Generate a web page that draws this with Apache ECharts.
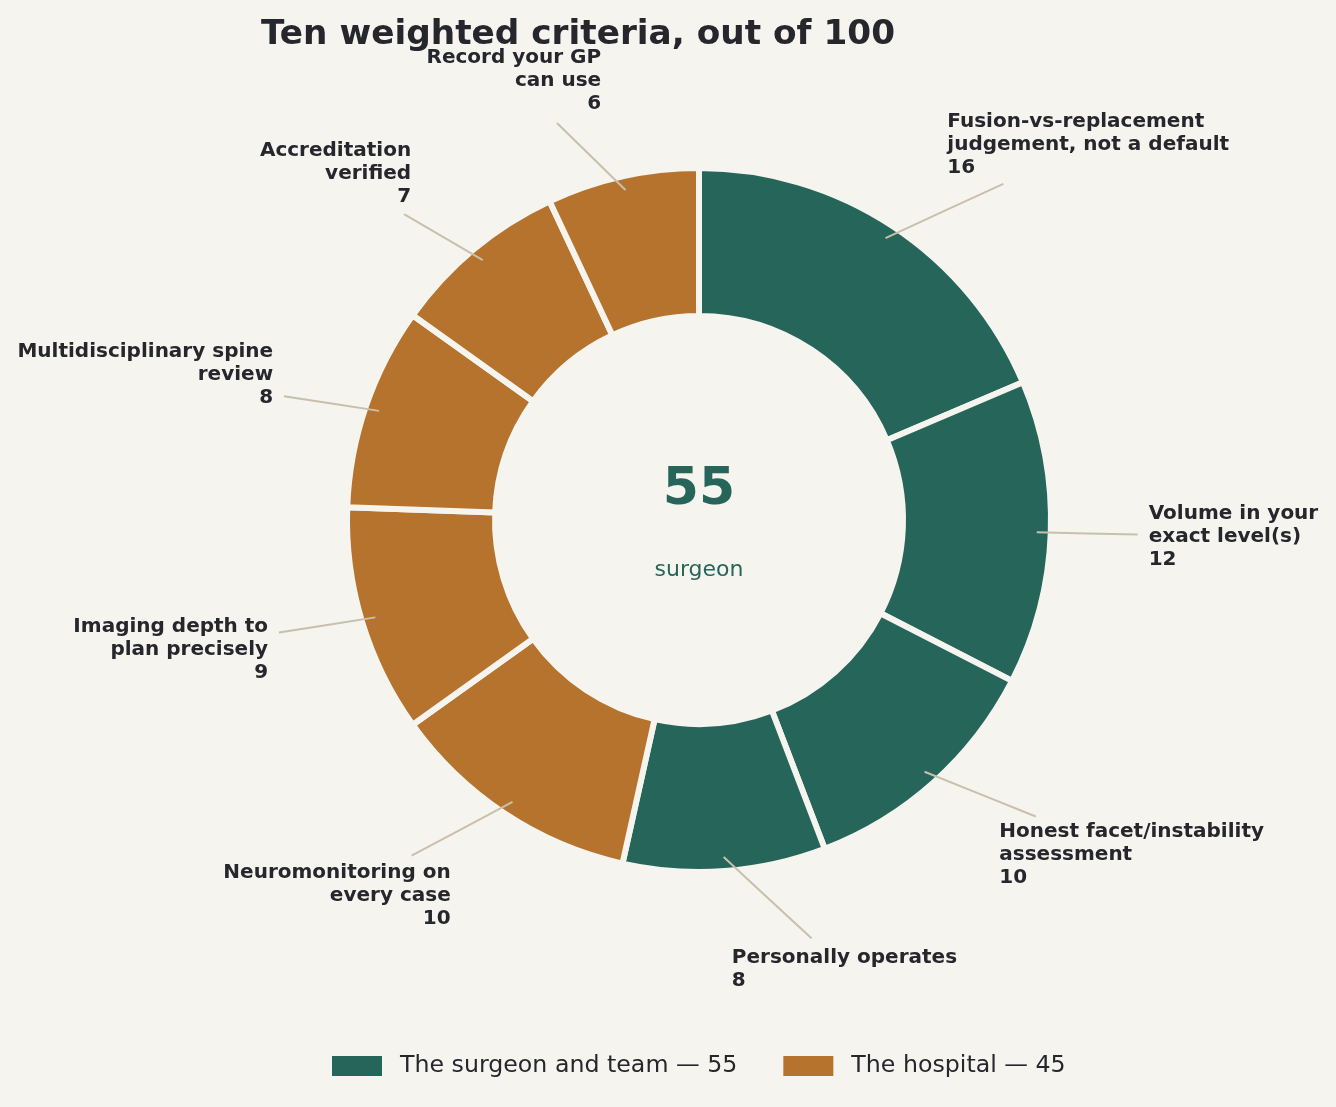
<!DOCTYPE html>
<html>
<head>
<meta charset="utf-8">
<script src="https://cdn.jsdelivr.net/npm/echarts@6/dist/echarts.min.js"></script>
<style>
  html, body { margin: 0; padding: 0; background: #f5f4ef; }
  #chart { width: 1336px; height: 1107px; }
</style>
</head>
<body>
<div id="chart"></div>
<script>
// ---- data ----
const categories = [
  'Fusion-vs-replacement\njudgement, not a default',
  'Volume in your\nexact level(s)',
  'Honest facet/instability\nassessment',
  'Personally operates',
  'Neuromonitoring on\nevery case',
  'Imaging depth to\nplan precisely',
  'Multidisciplinary spine\nreview',
  'Accreditation\nverified',
  'Record your GP\ncan use'
];
const weights = [16, 12, 10, 8, 10, 9, 8, 7, 6];
const groups = ['surgeon', 'surgeon', 'surgeon', 'surgeon', 'hospital', 'hospital', 'hospital', 'hospital', 'hospital'];
const legendNames = ['The surgeon and team \u2014 55', 'The hospital \u2014 45'];
const legendGroups = ['surgeon', 'hospital'];
const centerValue = '55';
const centerLabel = 'surgeon';
const titleText = 'Ten weighted criteria, out of 100';

// ---- styles ----
const colors = { surgeon: '#26655a', hospital: '#b5732d' };
const BG = '#f5f4ef';
const TEXT = '#25272c';
const FONT = 'DejaVu Sans';
const CX = 699, CY = 520;
const R_OUT = 352, R_IN = 204;
const LABEL_R = 450, LINE_R = 338, SHRINK = 11;

const total = weights.reduce((a, b) => a + b, 0);
function midAngle(i) {
  let s = 0;
  for (let j = 0; j < i; j++) s += weights[j];
  return (s + weights[i] / 2) / total * Math.PI * 2;
}

function layoutLabel(params) {
  const a = midAngle(params.dataIndex);
  const sx = Math.sin(a), sy = -Math.cos(a);
  const ax = CX + LABEL_R * sx, ay = CY + LABEL_R * sy;
  const right = sx >= 0;
  const w = params.labelRect.width, h = params.labelRect.height;
  const x0 = right ? ax : ax - w, x1 = x0 + w;
  const y0 = ay - h / 2, y1 = ay + h / 2;
  const px = CX + LINE_R * sx, py = CY + LINE_R * sy;
  const bx = (x0 + x1) / 2, by = (y0 + y1) / 2;
  const dx = bx - px, dy = by - py;
  const tx = dx > 0 ? (x0 - px) / dx : (dx < 0 ? (x1 - px) / dx : -Infinity);
  const ty = dy > 0 ? (y0 - py) / dy : (dy < 0 ? (y1 - py) / dy : -Infinity);
  const t = Math.max(tx, ty);
  const len = Math.hypot(dx, dy);
  const ex = px + dx * t - dx / len * SHRINK;
  const ey = py + dy * t - dy / len * SHRINK;
  return {
    x: ax, y: ay,
    align: right ? 'left' : 'right',
    verticalAlign: 'middle',
    labelLinePoints: [[px, py], [(px + ex) / 2, (py + ey) / 2], [ex, ey]]
  };
}

const chart = echarts.init(document.getElementById('chart'));
const option = {
  backgroundColor: BG,
  animation: false,
  title: [
    { text: titleText, left: 256, top: 13,
      textStyle: { fontFamily: FONT, fontSize: 34.3, fontWeight: 'bold', color: TEXT } }
  ],
  graphic: [
    { type: 'text', x: CX, y: 490, z: 10,
      style: { text: centerValue, align: 'center', verticalAlign: 'middle',
               font: 'bold 52px "DejaVu Sans"', fill: colors.surgeon } },
    { type: 'text', x: CX, y: 570, z: 10,
      style: { text: centerLabel, align: 'center', verticalAlign: 'middle',
               font: '22px "DejaVu Sans"', fill: colors.surgeon } }
  ],
  legend: {
    data: legendNames,
    left: 327, top: 1049,
    itemWidth: 50, itemHeight: 20, itemGap: 46,
    icon: 'rect',
    textStyle: { fontFamily: FONT, fontSize: 23.7, color: TEXT, padding: [0, 0, 0, 13] }
  },
  grid: { left: 0, top: 0, width: 1, height: 1, show: false },
  xAxis: { show: false, type: 'value' },
  yAxis: { show: false, type: 'value' },
  series: [
    {
      // coloured ring
      type: 'pie',
      z: 1,
      center: [CX, CY],
      radius: [R_IN, R_OUT],
      startAngle: 90,
      clockwise: true,
      itemStyle: { borderColor: BG, borderWidth: 6 },
      emphasis: { disabled: true },
      label: { show: false },
      labelLine: { show: false },
      data: categories.map((c, i) => ({
        name: c, value: weights[i], itemStyle: { color: colors[groups[i]] }
      }))
    },
    {
      // transparent overlay carrying the labels and leader lines on top of the ring
      type: 'pie',
      z: 4,
      center: [CX, CY],
      radius: [R_IN, R_OUT],
      startAngle: 90,
      clockwise: true,
      silent: true,
      avoidLabelOverlap: false,
      itemStyle: { color: 'rgba(0,0,0,0)', borderWidth: 0 },
      emphasis: { disabled: true },
      label: {
        show: true, position: 'outside', formatter: '{b}\n{c}',
        fontFamily: FONT, fontSize: 20, fontWeight: 'bold', lineHeight: 23, color: TEXT
      },
      labelLine: { show: true, showAbove: true, length: 20, length2: 20,
                   lineStyle: { color: '#c8c0ad', width: 2 } },
      labelLayout: layoutLabel,
      data: categories.map((c, i) => ({ name: c, value: weights[i] }))
    }
  ].concat(legendNames.map((n, i) => ({
    type: 'scatter', name: n, data: [],
    itemStyle: { color: colors[legendGroups[i]], opacity: 1 }
  })))
};
chart.setOption(option);
</script>
</body>
</html>
